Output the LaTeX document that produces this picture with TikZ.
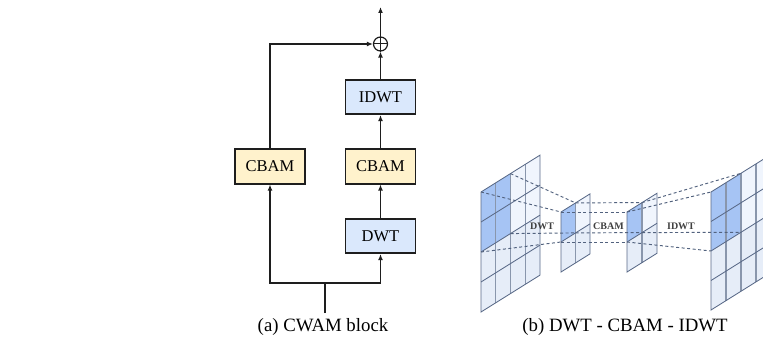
\documentclass[tikz,border=0pt]{standalone}
\usepackage{fontspec}
\setmainfont{Liberation Serif}
\usetikzlibrary{arrows.meta}

\definecolor{cbamfill}{HTML}{FFF2CC}
\definecolor{wavefill}{HTML}{DAE8FC}
\definecolor{boxline}{HTML}{1E1E1E}
\definecolor{slabfill}{HTML}{F0F5FD}
\definecolor{slablow}{HTML}{E6EDF8}
\definecolor{slabhi}{HTML}{A6C4F4}
\definecolor{slabline}{HTML}{5A6A88}
\definecolor{slabcol}{HTML}{8996AC}
\definecolor{linkcol}{HTML}{52627E}

\tikzset{
  blockbox/.style={draw=boxline, line width=1.6pt, minimum width=70pt, minimum height=34.5pt,
    inner sep=0pt, font=\fontsize{16.5}{18}\selectfont},
  cbambox/.style={blockbox, fill=cbamfill},
  wavebox/.style={blockbox, fill=wavefill},
  flow/.style={draw=boxline, line width=1.3pt, -{Latex[length=6pt,width=5pt]}},
  plain/.style={draw=boxline, line width=1.3pt},
  caption/.style={font=\fontsize{18.8}{20}\selectfont, inner sep=0pt},
  link/.style={draw=linkcol, line width=0.95pt, dash pattern=on 3pt off 2.5pt},
  steplabel/.style={font=\bfseries\fontsize{10}{11}\selectfont, text=black!75, inner sep=0pt},
  slabedge/.style={draw=slabline, line width=0.85pt},
  slabvert/.style={draw=slabcol, line width=1.1pt},
}

% one slanted feature map: origin x, origin y, cell width, row height,
% column list, row list, full size (cols), full size (rows), highlighted size
\newcommand{\featslab}[9]{%
  \begin{scope}[shift={(#1,#2)}, yslant=0.625, x=#3pt, y=-#4pt]
    \fill[slabfill] (0,0) rectangle (#7,#8);
    \fill[slablow] (0,#9) rectangle (#7,#8);
    \fill[slabhi] (0,0) rectangle (#9,#9);
    \foreach \c in {#5} \draw[slabvert] (\c,0) -- (\c,#8);
    \foreach \r in {#6} \draw[slabedge] (0,\r) -- (#7,\r);
    \draw[slabedge] (0,0) rectangle (#7,#8);
  \end{scope}}

\begin{document}
\begin{tikzpicture}[x=1pt, y=-1pt]
\useasboundingbox (0,0) rectangle (763,342);

% ---------------- (a) CWAM block ----------------
\node[cbambox] (cbamL) at (270,166.5) {CBAM};
\node[cbambox] (cbamR) at (380.5,166.5) {CBAM};
\node[wavebox] (idwt) at (380.5,97) {IDWT};
\node[wavebox] (dwt)  at (380.5,236) {DWT};
\node[draw=boxline, line width=1.2pt, circle, minimum size=14pt, inner sep=0pt] (sum) at (380.5,44) {};
\draw[boxline, line width=1pt] (sum.north) -- (sum.south) (sum.west) -- (sum.east);
\coordinate (out) at (380.5,7);
\coordinate (in) at (325,313);
\coordinate (split) at (325,283);

\draw[plain] (in) -- (split);
\draw[flow] (split) -| (cbamL.south);
\draw[flow] (split) -| (dwt.south);
\draw[flow] (dwt.north) -- (cbamR.south);
\draw[flow] (cbamR.north) -- (idwt.south);
\draw[flow] (idwt.north) -- (sum.south);
\draw[flow] (sum.north) -- (out);
\draw[flow] (cbamL.north) |- (sum.west);

\node[caption] (capa) at (323,327) {(a) CWAM block};

% ---------------- (b) DWT - CBAM - IDWT ----------------
\featslab{481}{192}{14.75}{30}{1,2,3}{1,2,3}{4}{4}{2}
\featslab{561}{212}{14.5}{30}{1}{1}{2}{2}{1}
\featslab{627}{212}{15}{30}{1}{1}{2}{2}{1}
\featslab{711}{192}{15}{29.5}{1,2,3}{1,2,3}{4}{4}{2}

% corners of the highlighted regions
\coordinate (L-tl) at (481,192);
\coordinate (L-tr) at (510.5,173.6);
\coordinate (L-bl) at (481,252);
\coordinate (L-br) at (510.5,233.6);
\coordinate (A-tl) at (561,212);
\coordinate (A-tr) at (575.5,202.9);
\coordinate (A-bl) at (561,242);
\coordinate (A-br) at (575.5,232.9);
\coordinate (B-tl) at (627,212);
\coordinate (B-tr) at (642,202.6);
\coordinate (B-bl) at (627,242);
\coordinate (B-br) at (642,232.6);
\coordinate (R-tl) at (711,192);
\coordinate (R-tr) at (741,173.3);
\coordinate (R-bl) at (711,251);
\coordinate (R-br) at (741,232.3);

\foreach \p in {tl,tr,bl,br} {
  \draw[link] (L-\p) -- (A-\p);
  \draw[link] (A-\p) -- (B-\p);
  \draw[link] (B-\p) -- (R-\p);
}

\node[steplabel] (lbl1) at (542,226) {DWT};
\node[steplabel] (lbl2) at (608.5,226) {CBAM};
\node[steplabel] (lbl3) at (681,226) {IDWT};

\node[caption] (capb) at (625,327) {(b) DWT - CBAM - IDWT};
\end{tikzpicture}
\end{document}
